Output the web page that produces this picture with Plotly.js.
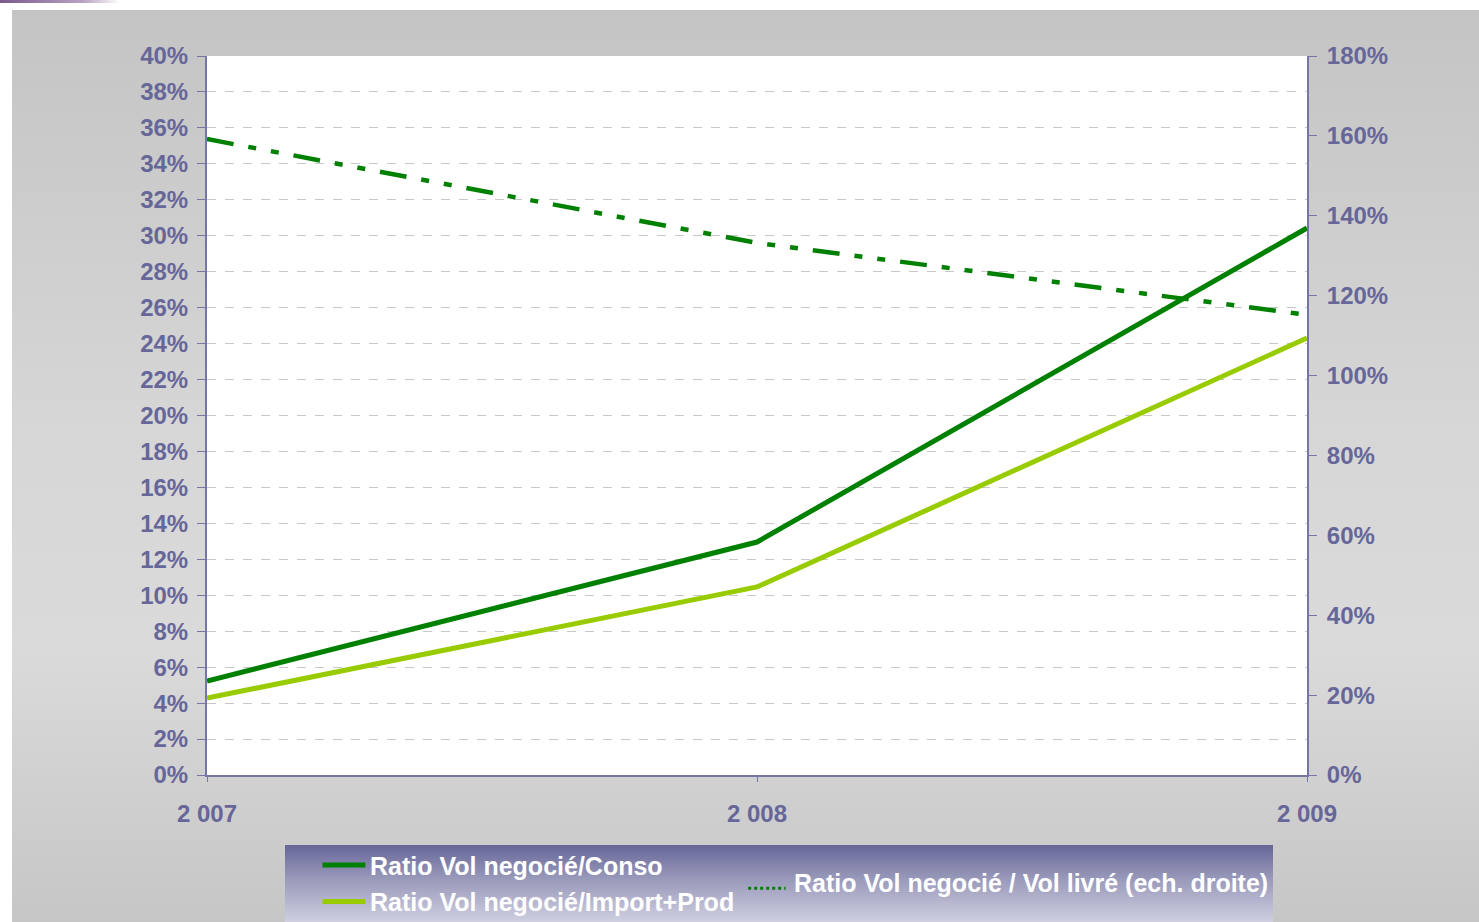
<!DOCTYPE html>
<html>
<head>
<meta charset="utf-8">
<script src="https://cdn.plot.ly/plotly-3.0.1.min.js"></script>
<style>
  html, body { margin: 0; padding: 0; background: #fff; }
  #wrap { position: relative; width: 1479px; height: 922px; overflow: hidden; }
  #deco { position: absolute; left: 0; top: 0; width: 120px; height: 3px;
    background: linear-gradient(to right, #7a5a8c, #b9a3c4 70%, #ffffff); }
  #panel { position: absolute; left: 12px; top: 10px; right: 0; bottom: 0;
    background: linear-gradient(to bottom, #c4c4c4 0%, #d6d6d6 45%, #dadada 70%, #c6c6c6 100%); }
  #legbox { position: absolute; left: 285px; top: 845px; width: 988px; height: 77px;
    background: linear-gradient(to bottom, #666699 0%, #9a9abb 45%, #cfcfe1 100%); }
  #chart { position: absolute; left: 0; top: 0; width: 1479px; height: 922px; }
</style>
</head>
<body>
<div id="wrap">
  <div id="deco"></div>
  <div id="panel"></div>
  <div id="legbox"></div>
  <div id="chart"></div>
</div>
<script>
var years = [2007, 2008, 2009]
var yearLabels = ['2 007', '2 008', '2 009']
var ratioConso = [0.0523, 0.1296, 0.3043]
var ratioImportProd = [0.0428, 0.1046, 0.2431]
var ratioLivre = [1.592, 1.332, 1.152]

var nameConso = 'Ratio Vol negocié/Conso'
var nameImport = 'Ratio Vol negocié/Import+Prod'
var nameLivre = 'Ratio Vol negocié / Vol livré (ech. droite)'

var axisColor = '#7676a6'
var textColor = '#666699'
var tickFont = { family: 'Liberation Sans, Arial, sans-serif', size: 24, color: textColor, weight: 700 }
var legFont = { family: 'Liberation Sans Narrow, Arial Narrow, Liberation Sans, sans-serif', size: 25, color: '#ffffff', weight: 700 }

var traces = [
  {
    x: years, y: ratioLivre, yaxis: 'y2', name: nameLivre,
    type: 'scatter', mode: 'lines',
    line: { color: '#008000', width: 4.5, dash: '27px,15px,8px,15px,8px,15px' }
  },
  {
    x: years, y: ratioImportProd, name: nameImport,
    type: 'scatter', mode: 'lines',
    line: { color: '#99cc00', width: 5 }
  },
  {
    x: years, y: ratioConso, name: nameConso,
    type: 'scatter', mode: 'lines',
    line: { color: '#008000', width: 5 }
  }
]

var layout = {
  width: 1479, height: 922,
  margin: { l: 207, r: 172, t: 56, b: 147 },
  paper_bgcolor: 'rgba(0,0,0,0)',
  plot_bgcolor: '#ffffff',
  showlegend: false,
  xaxis: {
    range: [2007, 2009],
    tickvals: years, ticktext: yearLabels,
    showgrid: false, zeroline: false,
    showline: true, linecolor: axisColor, linewidth: 2,
    ticks: 'outside', ticklen: 5, tickcolor: axisColor,
    ticklabelstandoff: 11,
    tickfont: tickFont
  },
  yaxis: {
    range: [0, 0.4], dtick: 0.02, tickformat: '.0%',
    showgrid: true, gridcolor: '#c8c8c8', griddash: 'dash', gridwidth: 1,
    zeroline: false,
    showline: true, linecolor: axisColor, linewidth: 2,
    ticks: 'outside', ticklen: 8, tickcolor: axisColor,
    ticklabelstandoff: 4,
    tickfont: tickFont
  },
  yaxis2: {
    range: [0, 1.8], dtick: 0.2, tickformat: '.0%',
    overlaying: 'y', side: 'right',
    showgrid: false, zeroline: false,
    showline: true, linecolor: axisColor, linewidth: 2,
    ticks: 'outside', ticklen: 8, tickcolor: axisColor,
    ticklabelstandoff: 5,
    tickfont: tickFont
  },
  shapes: [
    { type: 'line', xref: 'paper', yref: 'paper', x0: 0.105, x1: 0.144, y0: -0.125, y1: -0.125,
      line: { color: '#008000', width: 5 } },
    { type: 'line', xref: 'paper', yref: 'paper', x0: 0.105, x1: 0.144, y0: -0.176, y1: -0.176,
      line: { color: '#99cc00', width: 5 } },
    { type: 'line', xref: 'paper', yref: 'paper', x0: 0.492, x1: 0.526, y0: -0.1575, y1: -0.1575,
      line: { color: '#008000', width: 3, dash: 'dot' } }
  ],
  annotations: [
    { xref: 'paper', yref: 'paper', x: 0.146, y: -0.127, xanchor: 'left', yanchor: 'middle',
      text: nameConso, showarrow: false, font: legFont },
    { xref: 'paper', yref: 'paper', x: 0.146, y: -0.177, xanchor: 'left', yanchor: 'middle',
      text: nameImport, showarrow: false, font: legFont },
    { xref: 'paper', yref: 'paper', x: 0.532, y: -0.1505, xanchor: 'left', yanchor: 'middle',
      text: nameLivre, showarrow: false, font: legFont }
  ]
}

Plotly.newPlot('chart', traces, layout, { displayModeBar: false, staticPlot: true })
</script>
</body>
</html>
